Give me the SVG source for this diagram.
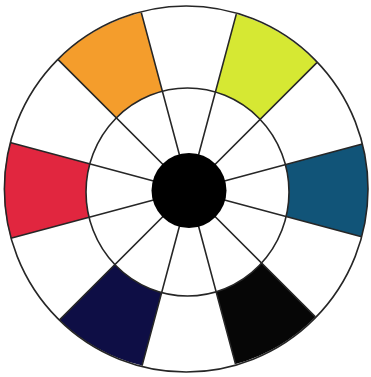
<svg xmlns="http://www.w3.org/2000/svg" width="371" height="377" viewBox="0 0 371 377">
  <style>
    .ln { fill: none; stroke: #262626; stroke-width: 1.6; }
    .patch { stroke: none; }
  </style>
  <rect width="371" height="377" fill="#ffffff"/>
  <g id="patches">
    <path id="red" class="patch" fill="#E1263F" d="M10.1,142.6 A182,182 0 0 0 10.8,238.2 L89,217.3 A101.5,104 0 0 1 89.8,163.9 Z"/>
    <path id="orange" class="patch" fill="#F49D2C" d="M58.1,59.6 A182,182 0 0 1 141.3,12.6 L162.4,91.2 A101.5,104 0 0 0 116.4,117.9 Z"/>
    <path id="yellow" class="patch" fill="#D6E833" d="M236.3,14.1 A182,182 0 0 1 316.9,62.6 L260.1,119.4 A101.5,104 0 0 0 215.4,92 Z"/>
    <path id="blue" class="patch" fill="#115478" d="M362.3,144.1 A182,182 0 0 1 361.6,236.8 L286.2,216.5 A101.5,104 0 0 0 285.4,164.7 Z"/>
    <path id="black" class="patch" fill="#060606" d="M315.4,316.9 A182,182 0 0 1 235.5,364.1 L216.1,291.8 A101.5,104 0 0 0 261.6,263.1 Z"/>
    <path id="navy" class="patch" fill="#0E0E45" d="M142.1,365.6 A182,182 0 0 1 59.6,319.9 L114.9,264.6 A101.5,104 0 0 0 161.6,292.6 Z"/>
  </g>
  <g id="connectors">
    <path class="ln" d="M189,190.5 L361.6,236.8 M189,190.5 L315.4,316.9 M189,190.5 L235.5,364.1 M189,190.5 L142.1,365.6 M189,190.5 L59.6,319.9 M189,190.5 L10.8,238.2 M189,190.5 L10.1,142.6 M189,190.5 L58.1,59.6 M189,190.5 L141.3,12.6 M189,190.5 L236.3,14.1 M189,190.5 L316.9,62.6 M189,190.5 L362.3,144.1"/>
  </g>
  <g id="outer-circle">
    <ellipse class="ln" cx="186.2" cy="189" rx="181.8" ry="183"/>
  </g>
  <g id="inner-circle">
    <ellipse class="ln" cx="187.5" cy="192" rx="101.5" ry="104"/>
  </g>
  <g id="center">
    <circle cx="189" cy="190.5" r="37.5" fill="#000000"/>
  </g>
</svg>
